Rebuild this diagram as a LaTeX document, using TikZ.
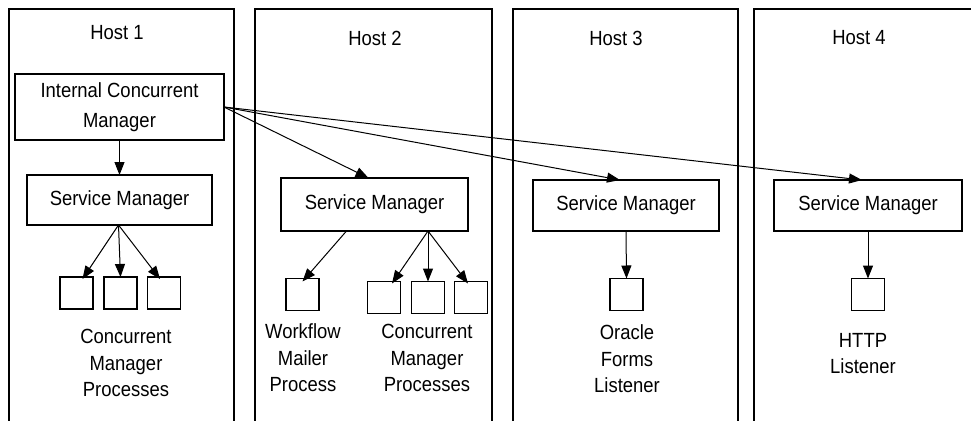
\documentclass[tikz,border=0pt]{standalone}
\usepackage{fontspec}
\setmainfont{Liberation Sans}[FakeStretch=0.9]
\usetikzlibrary{arrows.meta}
\begin{document}
\begin{tikzpicture}[x=1pt,y=-1pt,
  line width=1.1pt,
  every node/.style={inner sep=0pt,outer sep=0pt},
  txt/.style={font=\fontsize{20.5}{26.5}\selectfont,align=center},
  mgrbox/.style={draw,rectangle,txt},
  procbox/.style={draw,rectangle,minimum width=33pt,minimum height=32pt},
  hostframe/.style={draw,line width=1.1pt},
  flow/.style={-{Triangle[length=13pt,width=10pt]},line width=1pt}]
\useasboundingbox (0,0) rectangle (971,420);
\fill[white] (0,0) rectangle (971,420);
\begin{scope}
\clip (0,0) rectangle (971,420);
% host frames, open below the picture edge
\draw[hostframe] (9,9) rectangle (234,440);
\draw[hostframe] (255,9) rectangle (492,440);
\draw[hostframe] (513,9) rectangle (738,440);
\draw[hostframe] (754,9) rectangle (1000,440);
\end{scope}

% host titles
\node[txt] (h1) at (117,33) {Host 1};
\node[txt] (h2) at (375,38) {Host 2};
\node[txt] (h3) at (616,38) {Host 3};
\node[txt] (h4) at (859,38) {Host 4};

% managers
\node[mgrbox,minimum width=209pt,minimum height=66pt,
      font=\fontsize{20.5}{30}\selectfont] (icm) at (119.5,107)
      {Internal Concurrent\\Manager};
\node[mgrbox,minimum width=185pt,minimum height=50pt] (sm1) at (119.5,200) {Service Manager};
\node[mgrbox,minimum width=187pt,minimum height=53pt] (sm2) at (374.5,204.5) {Service Manager};
\node[mgrbox,minimum width=186pt,minimum height=51pt] (sm3) at (626,205.5) {Service Manager};
\node[mgrbox,minimum width=188pt,minimum height=51pt] (sm4) at (868,205.5) {Service Manager};

% processes
\node[procbox] (p1a) at (76.5,293) {};
\node[procbox] (p1b) at (120.5,293) {};
\node[procbox] (p1c) at (164,293) {};
\node[procbox] (wm)  at (302.5,294.5) {};
\node[procbox] (p2a) at (384,297.5) {};
\node[procbox] (p2b) at (428,297.5) {};
\node[procbox] (p2c) at (471,297.5) {};
\node[procbox] (ofl) at (626.5,294.5) {};
\node[procbox] (htl) at (868,294.5) {};

% process captions
\node[txt] (c1)  at (126,363) {Concurrent\\Manager\\Processes};
\node[txt] (c2)  at (303,358) {Workflow\\Mailer\\Process};
\node[txt] (c3)  at (427,358) {Concurrent\\Manager\\Processes};
\node[txt] (c4)  at (627,359) {Oracle\\Forms\\Listener};
\node[txt] (c5)  at (863,353.5) {HTTP\\Listener};

% internal concurrent manager to the service managers
\draw[flow] (icm.south) -- (sm1.north);
\draw[flow] (icm.east) -- ([xshift=-6pt]sm2.north);
\draw[flow] (icm.east) -- ([xshift=-6pt]sm3.north);
\draw[flow] (icm.east) -- ([xshift=-6pt]sm4.north);

% service managers to their processes
\coordinate (s1) at ([xshift=-1pt]sm1.south);
\draw[flow] (s1) -- ([xshift=6pt,yshift=-2pt]p1a.north);
\draw[flow] (s1) -- (p1b.north);
\draw[flow] (s1) -- ([xshift=-4pt,yshift=-2pt]p1c.north);

\coordinate (s2w) at ([xshift=-28pt]sm2.south);
\coordinate (s2c) at ([xshift=53.5pt]sm2.south);
\draw[flow] (s2w) -- ([yshift=-3pt]wm.north);
\draw[flow] (s2c) -- ([xshift=8pt,yshift=-2pt]p2a.north);
\draw[flow] (s2c) -- (p2b.north);
\draw[flow] (s2c) -- ([xshift=-3pt,yshift=-2pt]p2c.north);

\draw[flow] (sm3.south) -- (ofl.north);
\draw[flow] (sm4.south) -- (htl.north);
\end{tikzpicture}
\end{document}
